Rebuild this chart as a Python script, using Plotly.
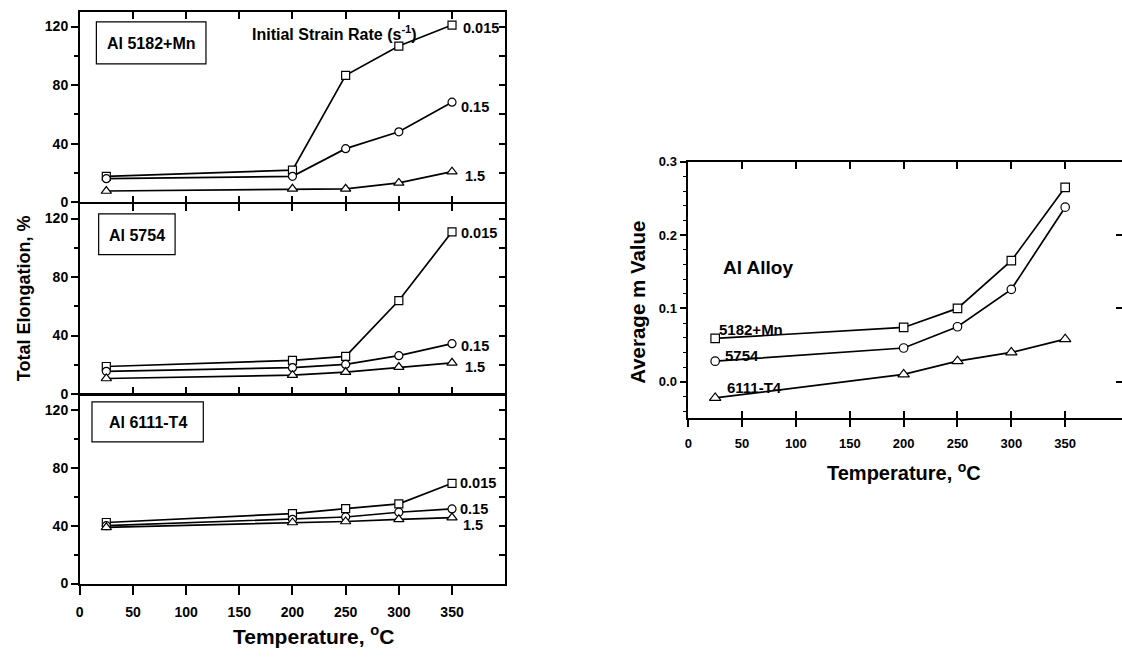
import plotly.graph_objects as go

# ---------------- data ----------------
temps = [25, 200, 250, 300, 350]
strain_rates = ["0.015", "0.15", "1.5"]
marker_symbols = ["square", "circle", "triangle-up"]

al5182_0015 = [17.8, 22.0, 86.7, 106.7, 121.0]
al5182_015 = [16.2, 17.8, 36.7, 48.2, 68.4]
al5182_15 = [7.8, 9.3, 9.3, 13.3, 21.0]

al5754_0015 = [18.8, 23.0, 25.7, 63.9, 110.9]
al5754_015 = [15.5, 18.0, 20.2, 26.2, 34.4]
al5754_15 = [10.6, 12.9, 15.0, 18.4, 21.3]

al6111_0015 = [42.2, 48.4, 51.8, 55.1, 69.3]
al6111_015 = [40.0, 44.4, 46.0, 49.3, 51.6]
al6111_15 = [38.9, 42.2, 42.9, 44.4, 45.6]

alloys_m = ["5182+Mn", "5754", "6111-T4"]
m_5182 = [0.059, 0.074, 0.100, 0.165, 0.265]
m_5754 = [0.028, 0.046, 0.075, 0.126, 0.238]
m_6111 = [-0.022, 0.010, 0.028, 0.040, 0.058]

elong_ticks = [0, 40, 80, 120]
elong_minor = [20, 60, 100]
elong_all = [0, 20, 40, 60, 80, 100, 120]
temp_ticks = [0, 50, 100, 150, 200, 250, 300, 350]
m_ticks = [0.0, 0.1, 0.2, 0.3]
m_tick_text = ["0.0", "0.1", "0.2", "0.3"]
m_minor = [-0.04, -0.02, 0.02, 0.04, 0.06, 0.08, 0.12, 0.14, 0.16, 0.18,
           0.22, 0.24, 0.26, 0.28]

W, H = 1122, 659
FONT = "Liberation Sans, Arial, Helvetica, sans-serif"
LW = 1.5


def px(x):
    return x / W


def py(y):
    return 1 - y / H


fig = go.Figure()

panels = [
    ("x", "y", [al5182_0015, al5182_015, al5182_15]),
    ("x2", "y2", [al5754_0015, al5754_015, al5754_15]),
    ("x3", "y3", [al6111_0015, al6111_015, al6111_15]),
]
for xa, ya, series in panels:
    for vals, sym, name in zip(series, marker_symbols, strain_rates):
        fig.add_trace(go.Scatter(
            x=temps, y=vals, xaxis=xa, yaxis=ya, mode="lines+markers",
            name=name, showlegend=False,
            line=dict(color="black", width=1.7),
            marker=dict(symbol=sym, size=9 if sym == "triangle-up" else 8,
                        color="white", line=dict(color="black", width=1.2)),
        ))

for vals, sym, name in zip([m_5182, m_5754, m_6111], marker_symbols, alloys_m):
    fig.add_trace(go.Scatter(
        x=temps, y=vals, xaxis="x4", yaxis="y4", mode="lines+markers",
        name=name, showlegend=False,
        line=dict(color="black", width=1.7),
        marker=dict(symbol=sym, size=10 if sym == "triangle-up" else 8.5,
                    color="white", line=dict(color="black", width=1.2)),
    ))

# empty traces so overlay axes (for inward right / top ticks) are drawn
for xa, ya in [("x", "y5"), ("x2", "y6"), ("x3", "y7"), ("x4", "y8"), ("x5", "y4")]:
    fig.add_trace(go.Scatter(x=[None], y=[None], xaxis=xa, yaxis=ya,
                             showlegend=False, hoverinfo="skip"))

tickfont_l = dict(family=FONT, size=14, color="black", weight="bold")
tickfont_r = dict(family=FONT, size=13, color="black", weight="bold")

LEFT_DOM = [px(76), px(503)]
# panel boundaries (pixels); lower panels start one line-width lower so shared lines coincide
ydoms = [[py(200), py(5)], [py(396), py(200 + LW)], [py(590), py(396 + LW)]]

axis_common = dict(showgrid=False, zeroline=False, showline=True,
                   linecolor="black", linewidth=LW)

layout = dict(width=W, height=H, margin=dict(l=0, r=0, t=0, b=0),
              paper_bgcolor="white", plot_bgcolor="white")

for i, (xa, ya) in enumerate([("xaxis", "yaxis"), ("xaxis2", "yaxis2"), ("xaxis3", "yaxis3")]):
    xs = "x" if i == 0 else f"x{i+1}"
    ys = "y" if i == 0 else f"y{i+1}"
    last = i == 2
    layout[xa] = dict(axis_common, domain=LEFT_DOM, anchor=ys, range=[0, 400],
                      tickmode="array", tickvals=temp_ticks,
                      ticks="outside" if last else "inside",
                      ticklen=10 if last else 7, tickwidth=1.5, tickcolor="black",
                      mirror=True if last else "ticks",
                      showticklabels=last, tickfont=tickfont_l, ticklabelstandoff=5)
    layout[ya] = dict(axis_common, domain=ydoms[i], anchor=xs, range=[0, 130],
                      tickmode="array", tickvals=elong_ticks,
                      ticks="outside", ticklen=7, tickwidth=1.5, tickcolor="black",
                      minor=dict(tickmode="array", tickvals=elong_minor, ticks="outside",
                                 ticklen=4, tickwidth=1.5, tickcolor="black"),
                      mirror=True, tickfont=tickfont_l)
    # right side inward ticks
    layout[f"yaxis{5+i}"] = dict(overlaying=ys, side="right", anchor=xs, range=[0, 130],
                                 tickmode="array", tickvals=elong_all, ticks="inside",
                                 ticklen=6, tickwidth=1.5, tickcolor="black",
                                 showticklabels=False, showgrid=False, zeroline=False,
                                 showline=False)

RIGHT_XEND = (W - 686.7) / 54.04 * 50
layout["xaxis4"] = dict(axis_common, domain=[px(686.7), 1.0], anchor="y4",
                        range=[0, RIGHT_XEND], tickmode="array", tickvals=temp_ticks,
                        ticks="outside", ticklen=7, tickwidth=1.5, tickcolor="black",
                        mirror=True, tickfont=tickfont_r, ticklabelstandoff=5)
layout["xaxis5"] = dict(overlaying="x4", anchor="y4", range=[0, RIGHT_XEND],
                        tickmode="array", tickvals=temp_ticks, ticks="inside",
                        ticklen=7, tickwidth=1.5, tickcolor="black", mirror="ticks",
                        showticklabels=False, showgrid=False, zeroline=False,
                        showline=False)
layout["yaxis4"] = dict(axis_common, domain=[py(421), py(158.3)], anchor="x4",
                        range=[-0.05, 0.3], tickmode="array", tickvals=m_ticks,
                        ticktext=m_tick_text, ticks="outside", ticklen=7, tickwidth=1.5,
                        tickcolor="black",
                        minor=dict(tickmode="array", tickvals=m_minor, ticks="outside",
                                   ticklen=4, tickwidth=1.2, tickcolor="black"),
                        mirror=False, tickfont=tickfont_r)
layout["yaxis8"] = dict(overlaying="y4", side="right", anchor="x4", range=[-0.05, 0.3],
                        tickmode="array", tickvals=m_ticks, ticks="inside", ticklen=6,
                        tickwidth=1.5, tickcolor="black", showticklabels=False,
                        showgrid=False, zeroline=False, showline=False)

fig.update_layout(**layout)


def txt(text, x, y, size, xanchor="left", yanchor="middle", angle=0, **kw):
    fig.add_annotation(text=text, x=px(x), y=py(y), xref="paper", yref="paper",
                       xanchor=xanchor, yanchor=yanchor, showarrow=False, textangle=angle,
                       font=dict(family=FONT, size=size, color="black", weight="bold"), **kw)


# axis titles
txt("Total Elongation, %", 20, 298, 18, xanchor="center", angle=-90)
txt("Temperature, <sup>o</sup>C", 311, 643, 21, xanchor="center")
txt("Average m Value", 635, 302, 20.5, xanchor="center", angle=-90)
txt("Temperature, <sup>o</sup>C", 903, 475, 20, xanchor="center")

# alloy boxes (left)
box_info = [("Al 5182+Mn", 92.7, 202.7, 15.3, 58.3),
            ("Al 5754", 95, 171.7, 211.7, 253.3),
            ("Al 6111-T4", 88.3, 200, 404, 445)]
for label, x0, x1, y0, y1 in box_info:
    fig.add_shape(type="rect", xref="paper", yref="paper", x0=px(x0), x1=px(x1),
                  y0=py(y1), y1=py(y0), line=dict(color="black", width=1.2),
                  fillcolor="white")
    txt(label, (x0 + x1) / 2, (y0 + y1) / 2 + 1, 16, xanchor="center")

txt("Initial Strain Rate (s<sup>-1</sup>)", 247, 27, 16)

# strain-rate labels
strain_pos = [
    [(459, 22), (457, 102), (461, 173)],
    [(457, 231), (457, 347), (461, 368)],
    [(456, 487), (456, 514), (459, 530)],
]
for row in strain_pos:
    for (x, y), lab in zip(row, strain_rates):
        txt(lab, x, y, 14.5)

# right-panel labels
txt("Al Alloy", 720, 267, 19)
for lab, (x, y) in zip(alloys_m, [(716, 330), (722, 357), (724, 389)]):
    txt(lab, x, y, 15)

fig.write_html("out.html")
